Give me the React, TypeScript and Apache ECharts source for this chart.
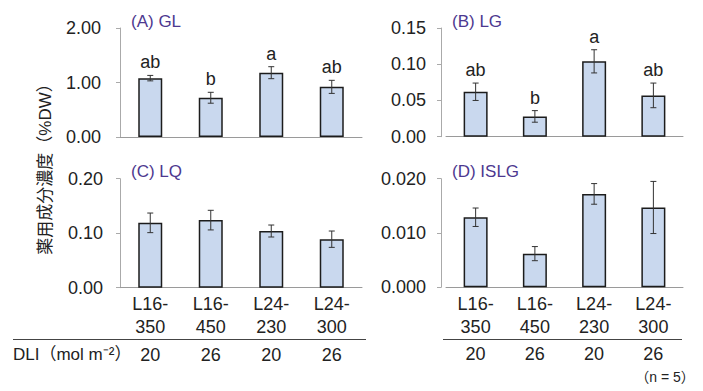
import React, { useEffect, useRef } from "react";
import * as echarts from "echarts";

// Treatments (light period - PPFD)
const categories = ["L16-\n350", "L16-\n450", "L24-\n230", "L24-\n300"];
const dli = ["20", "26", "20", "26"];

// Mean concentrations (%DW) and standard errors per compound
const glMean = [1.08, 0.72, 1.18, 0.92];
const glErr = [0.05, 0.1, 0.11, 0.12];
const glLetters = ["ab", "b", "a", "ab"];

const lgMean = [0.062, 0.028, 0.104, 0.057];
const lgErr = [0.012, 0.008, 0.016, 0.017];
const lgLetters = ["ab", "b", "a", "ab"];

const lqMean = [0.119, 0.124, 0.104, 0.089];
const lqErr = [0.018, 0.018, 0.011, 0.015];

const islgMean = [0.0129, 0.0062, 0.0172, 0.0147];
const islgErr = [0.0017, 0.0013, 0.0019, 0.0048];

const panelTitles = ["(A) GL", "(B) LG", "(C) LQ", "(D) ISLG"];

const FONT = "'Liberation Sans', Arial, 'Noto Sans CJK JP', sans-serif";
const CJK = "'Liberation Sans', 'Noto Sans CJK JP', sans-serif";

export default function App() {
  const ref = useRef<HTMLDivElement>(null);

  useEffect(() => {
    document.body.style.margin = "0";
    const chart = echarts.init(ref.current!, undefined, { renderer: "svg" });

    const grids = [
      { left: 120, top: 28, width: 242, height: 109 },
      { left: 446, top: 28, width: 237, height: 108.7 },
      { left: 120, top: 178.7, width: 242, height: 109 },
      { left: 446, top: 178.7, width: 237, height: 108.6 },
    ];

    const yCfg = [
      { max: 2, interval: 1, digits: 2, offset: 0, margin: 19 },
      { max: 0.15, interval: 0.05, digits: 2, offset: 5, margin: 15 },
      { max: 0.2, interval: 0.1, digits: 2, offset: 0, margin: 17 },
      { max: 0.02, interval: 0.01, digits: 3, offset: 5, margin: 15 },
    ];

    const panels = [
      { mean: glMean, err: glErr, letters: glLetters },
      { mean: lgMean, err: lgErr, letters: lgLetters },
      { mean: lqMean, err: lqErr, letters: null as string[] | null },
      { mean: islgMean, err: islgErr, letters: null as string[] | null },
    ];

    const xAxes: any[] = grids.map((_, i) => ({
      type: "category",
      gridIndex: i,
      data: categories,
      axisLine: { lineStyle: { color: "#9a9a9a", width: 1 } },
      axisTick: { show: false },
      axisLabel: {
        show: i >= 2,
        color: "#222",
        fontSize: 18,
        fontFamily: FONT,
        lineHeight: 23,
        margin: 5,
      },
    }));
    // DLI row beneath the bottom panels
    [2, 3].forEach((g) => {
      xAxes.push({
        type: "category",
        gridIndex: g,
        data: dli,
        position: "bottom",
        offset: 52,
        axisLine: { show: false },
        axisTick: { show: false },
        axisLabel: { color: "#222", fontSize: 18, fontFamily: FONT, margin: 6 },
      });
    });

    const yAxes = yCfg.map((c, i) => ({
      type: "value",
      gridIndex: i,
      min: 0,
      max: c.max,
      interval: c.interval,
      offset: c.offset,
      splitLine: { show: false },
      axisLine: { show: true, lineStyle: { color: "#aaaaaa", width: 1 } },
      axisTick: { show: true, length: 4, lineStyle: { color: "#aaaaaa" } },
      axisLabel: {
        color: "#222",
        fontSize: 18,
        fontFamily: FONT,
        margin: c.margin,
        formatter: (v: number) => v.toFixed(c.digits),
      },
    }));

    const series: any[] = [];
    panels.forEach((p, i) => {
      series.push({
        type: "bar",
        xAxisIndex: i,
        yAxisIndex: i,
        data: p.mean,
        barWidth: 24,
        itemStyle: { color: "#c9d8ee", borderColor: "#1c1c1c", borderWidth: 1.5 },
      });
      series.push({
        type: "custom",
        xAxisIndex: i,
        yAxisIndex: i,
        data: p.mean.map((m, k) => [k, m, p.err[k]]),
        z: 10,
        renderItem: (params: any, api: any) => {
          const idx = api.value(0);
          const m = api.value(1);
          const e = api.value(2);
          const top = api.coord([idx, m + e]);
          const bot = api.coord([idx, m - e]);
          const cap = 3;
          const lineStyle = { stroke: "#333", lineWidth: 1 };
          const children: any[] = [
            { type: "line", shape: { x1: top[0], y1: top[1], x2: bot[0], y2: bot[1] }, style: lineStyle },
            { type: "line", shape: { x1: top[0] - cap, y1: top[1], x2: top[0] + cap, y2: top[1] }, style: lineStyle },
            { type: "line", shape: { x1: bot[0] - cap, y1: bot[1], x2: bot[0] + cap, y2: bot[1] }, style: lineStyle },
          ];
          if (p.letters) {
            children.push({
              type: "text",
              x: top[0],
              y: top[1] - 4,
              style: {
                text: p.letters[params.dataIndex],
                fill: "#222",
                font: `18px ${FONT}`,
                align: "center",
                verticalAlign: "bottom",
              },
            });
          }
          return { type: "group", children };
        },
      });
    });

    const titlePos = [
      [131, 21],
      [452, 21],
      [131, 171],
      [452, 171],
    ];

    const graphic: any[] = panelTitles.map((t, i) => ({
      type: "text",
      x: titlePos[i][0],
      y: titlePos[i][1],
      style: {
        text: t,
        fill: "#4d3890",
        font: `17px ${FONT}`,
        verticalAlign: "middle",
      },
    }));

    graphic.push(
      {
        type: "text",
        x: 45,
        y: 165,
        rotation: Math.PI / 2,
        style: {
          text: "薬用成分濃度（%DW）",
          fill: "#222",
          font: `17px ${CJK}`,
          align: "center",
          verticalAlign: "middle",
        },
      },
      {
        type: "line",
        shape: { x1: 13, y1: 339.5, x2: 366, y2: 339.5 },
        style: { stroke: "#444", lineWidth: 1 },
      },
      {
        type: "line",
        shape: { x1: 443, y1: 339.5, x2: 682, y2: 339.5 },
        style: { stroke: "#444", lineWidth: 1 },
      },
      {
        type: "text",
        x: 13,
        y: 354,
        style: {
          text: "DLI（mol m⁻²）",
          fill: "#222",
          font: `17px ${CJK}`,
          verticalAlign: "middle",
        },
      },
      {
        type: "text",
        x: 665,
        y: 377,
        style: {
          text: "（n = 5）",
          fill: "#222",
          font: `14px ${CJK}`,
          align: "center",
          verticalAlign: "middle",
        },
      }
    );

    chart.setOption({
      animation: false,
      backgroundColor: "#ffffff",
      grid: grids,
      xAxis: xAxes,
      yAxis: yAxes,
      series,
      graphic,
    });

    return () => chart.dispose();
  }, []);

  return <div ref={ref} style={{ width: 703, height: 391 }} />;
}
